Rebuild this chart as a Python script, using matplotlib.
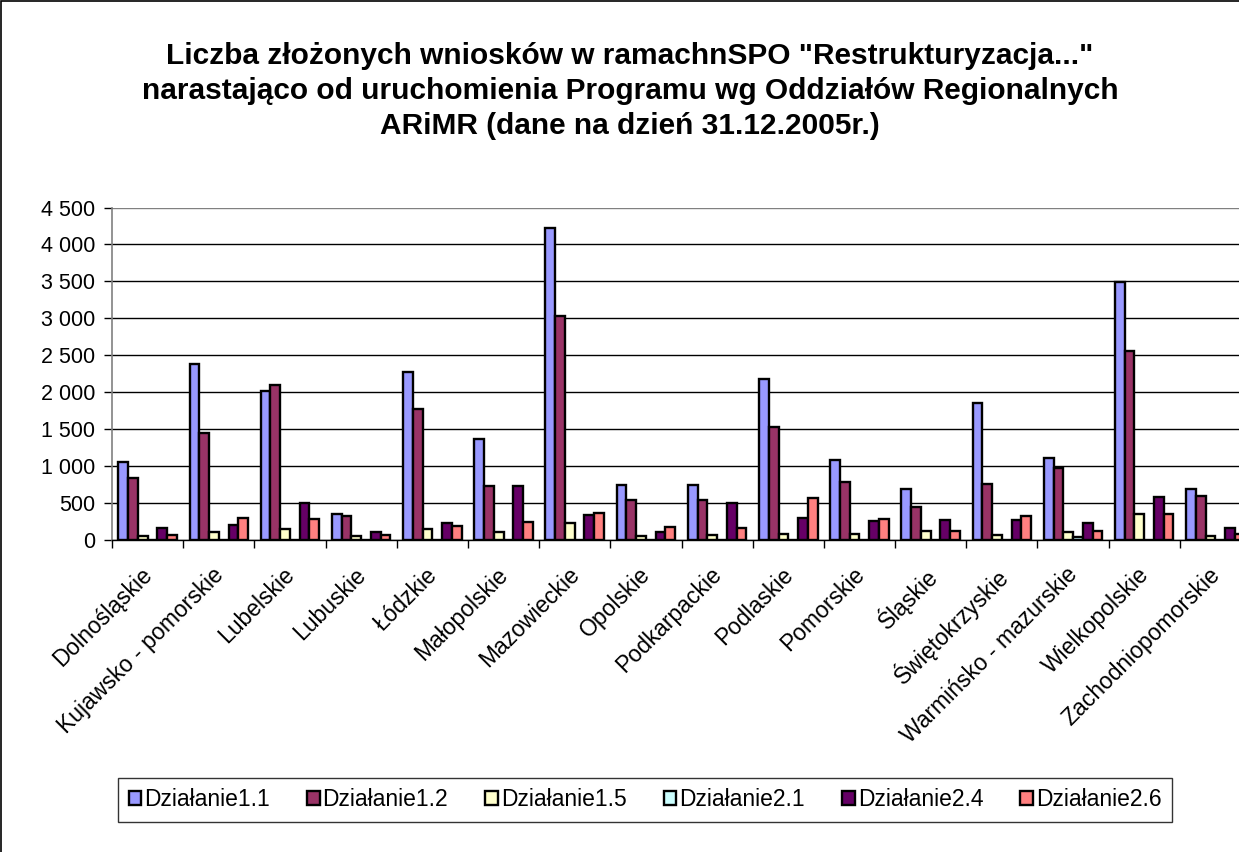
import numpy as np
import matplotlib
matplotlib.use('Agg')
import matplotlib.pyplot as plt
import matplotlib.transforms as mtrans
from matplotlib.ticker import FuncFormatter, FixedLocator
from matplotlib.patches import Rectangle

plt.rcParams['font.family'] = ['Liberation Sans', 'DejaVu Sans']

regions = ['Dolnośląskie', 'Kujawsko - pomorskie', 'Lubelskie', 'Lubuskie', 'Łódzkie',
           'Małopolskie', 'Mazowieckie', 'Opolskie', 'Podkarpackie', 'Podlaskie',
           'Pomorskie', 'Śląskie', 'Świętokrzyskie', 'Warmińsko - mazurskie',
           'Wielkopolskie', 'Zachodniopomorskie']

d11 = [1045, 2385, 2010, 340, 2270, 1365, 4220, 735, 740, 2170, 1075, 680, 1855, 1105, 3485, 680]
d12 = [835, 1445, 2090, 315, 1775, 725, 3035, 535, 535, 1520, 780, 435, 750, 970, 2550, 595]
d15 = [50, 105, 140, 45, 145, 95, 225, 50, 60, 75, 80, 110, 55, 105, 345, 50]
d21 = [0, 0, 0, 0, 0, 0, 0, 0, 0, 0, 0, 0, 0, 40, 0, 0]
d24 = [154, 196, 490, 106, 220, 729, 328, 102, 490, 291, 247, 264, 264, 228, 576, 152]
d26 = [64, 290, 278, 61, 187, 233, 363, 165, 160, 558, 282, 111, 314, 115, 350, 70]

series = [d11, d12, d15, d21, d24, d26]
names = ['Działanie1.1', 'Działanie1.2', 'Działanie1.5', 'Działanie2.1', 'Działanie2.4', 'Działanie2.6']
colors = ['#9999FF', '#993366', '#FFFFCC', '#CCFFFF', '#660066', '#FF8080']

W, H = 1239, 852
fig = plt.figure(figsize=(W / 100, H / 100), dpi=100)
fig.patch.set_facecolor('white')

# axes runs past the right edge, like the cropped original
ax = fig.add_axes([112 / W, (H - 539.5) / H, (1251 - 112) / W, 332 / H])

x = np.arange(len(regions))
bw = 0.137
for i, (vals, nm, c) in enumerate(zip(series, names, colors)):
    ax.bar(x - 3 * bw + (i + 0.5) * bw, vals, width=bw, color=c, edgecolor='black',
           linewidth=1.7, label=nm, zorder=3)

ax.set_xlim(-0.5, len(regions) - 0.5)
ax.set_ylim(0, 4500)
ax.set_yticks(np.arange(0, 4501, 500))
ax.yaxis.set_major_formatter(FuncFormatter(lambda v, p: f'{int(v):,}'.replace(',', ' ')))
ax.grid(axis='y', color='black', linewidth=1.0, zorder=0)
ax.get_ygridlines()[-1].set_color('#808080')
ax.tick_params(axis='y', labelsize=15.5, length=6, width=1, pad=6, direction='out')

ax.set_xticks(x)
ax.set_xticklabels(regions, rotation=45, ha='right', rotation_mode='anchor', fontsize=16.5)
ax.tick_params(axis='x', which='major', length=0, pad=17)
shift = mtrans.ScaledTranslation(-7 / 100, 0, fig.dpi_scale_trans)
for lb in ax.get_xticklabels():
    lb.set_transform(lb.get_transform() + shift)
ax.xaxis.set_minor_locator(FixedLocator(np.arange(-0.5, len(regions), 1)))
ax.tick_params(axis='x', which='minor', length=6, width=1, direction='out')

for s in ['top', 'right']:
    ax.spines[s].set_visible(False)
ax.spines['left'].set_color('#808080')
ax.spines['left'].set_linewidth(1.2)
ax.spines['bottom'].set_color('black')
ax.spines['bottom'].set_linewidth(1.0)

fig.text(630 / W, 1 - 91 / H,
         'Liczba złożonych wniosków w ramachnSPO "Restrukturyzacja..."\n'
         'narastająco od uruchomienia Programu wg Oddziałów Regionalnych\n'
         'ARiMR (dane na dzień 31.12.2005r.)',
         ha='center', va='center', fontsize=21.5, fontweight='bold', linespacing=1.32)

leg = fig.legend(loc='center', bbox_to_anchor=(645 / W, 1 - 800 / H), ncol=6,
                 fontsize=16.5, frameon=True, fancybox=False, edgecolor='black',
                 handlelength=0.55, handleheight=0.55, handletextpad=0.13,
                 columnspacing=1.62, borderpad=0.45)
leg.get_frame().set_linewidth(1.0)

# outer chart border (cut at right/bottom)
fig.add_artist(Rectangle((1 / W, -0.05), 1.2, 1.05 - 1 / H, transform=fig.transFigure,
                         fill=False, edgecolor='black', linewidth=1.2))

fig.savefig('out.png', dpi=100)
